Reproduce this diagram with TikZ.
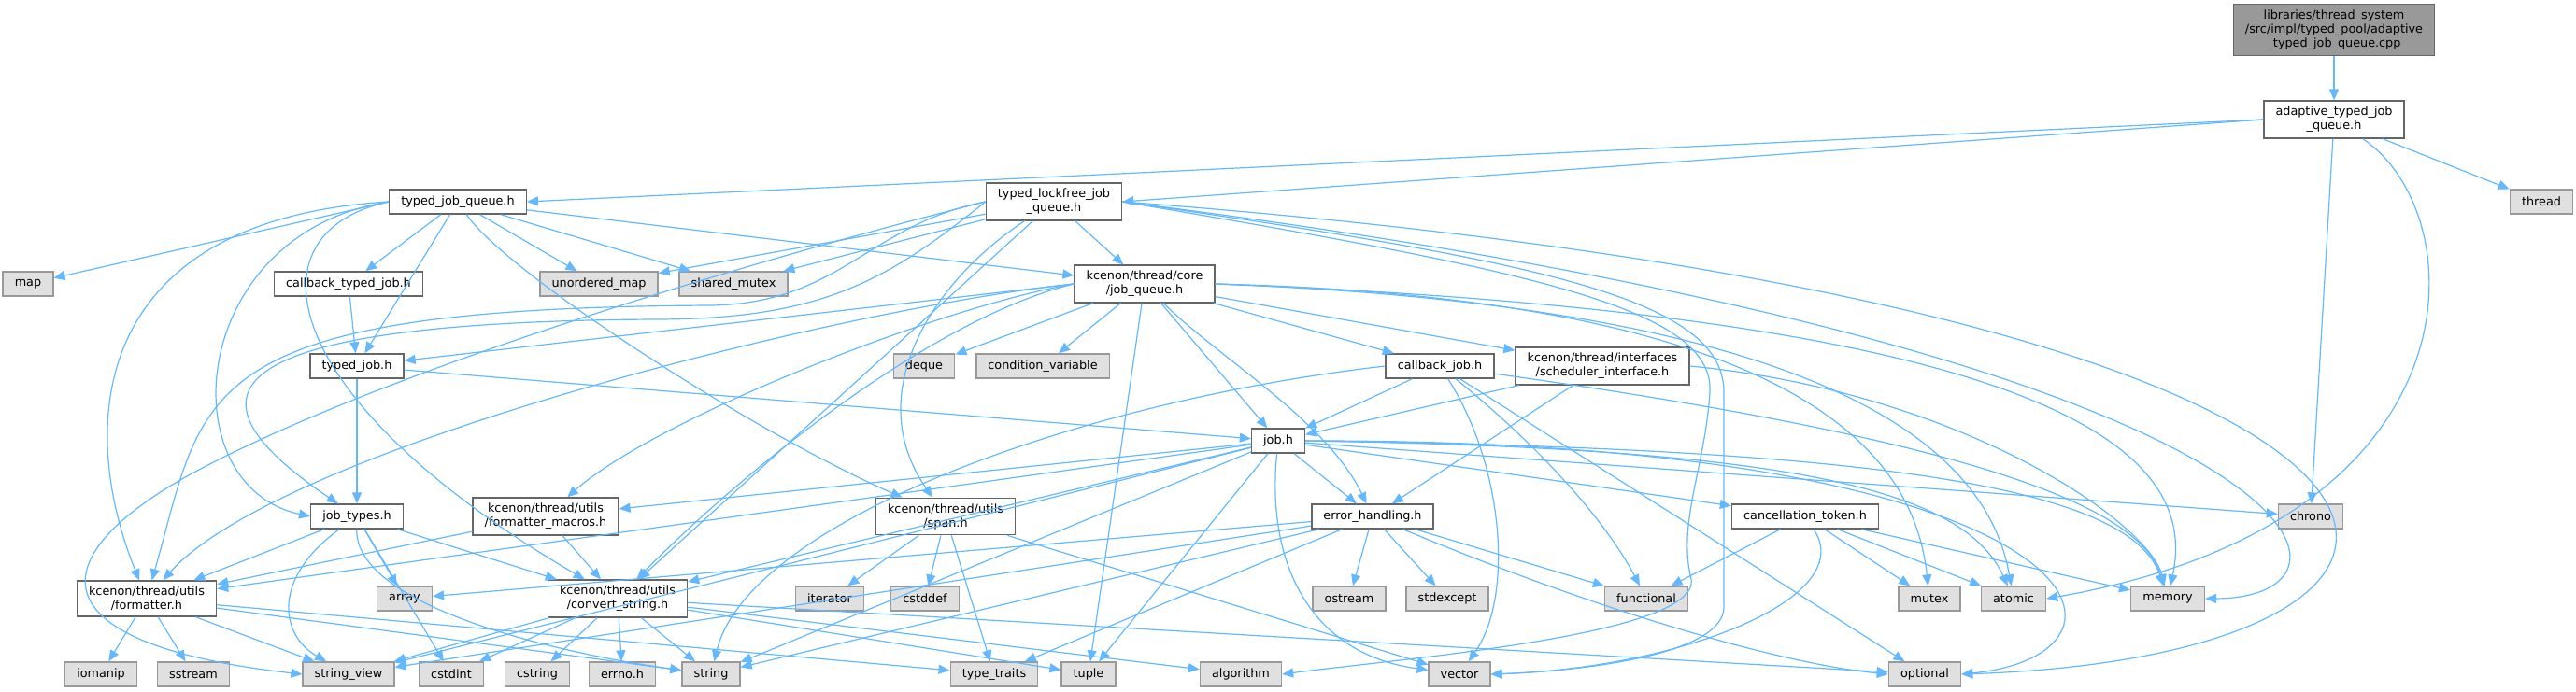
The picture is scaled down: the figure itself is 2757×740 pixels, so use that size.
\documentclass[tikz,border=0pt]{standalone}
\usepackage{fontspec}
\setmainfont{DejaVu Sans}
\usepackage{xcolor}
\usepackage{tikz}
\usetikzlibrary{arrows.meta}

\definecolor{edgeblue}{HTML}{63B8FF}
\definecolor{extfill}{HTML}{E0E0E0}
\definecolor{extdraw}{HTML}{999999}
\definecolor{filedraw}{HTML}{666666}
\definecolor{rootfill}{HTML}{999999}

\begin{document}
\begin{tikzpicture}[
        x=0.5pt, y=-0.5pt,
        filenode/.style={draw=filedraw, fill=white, line width=0.7pt, inner xsep=6.3pt, inner ysep=3pt, minimum height=13pt, align=center, font=\fontsize{6.4pt}{7.5pt}\selectfont},
        extnode/.style={filenode, draw=extdraw, fill=extfill},
        rootnode/.style={filenode, fill=rootfill},
        dep/.style={-{Triangle[length=6pt, width=5pt]}, line width=0.6pt, edgeblue}
    ]
        \useasboundingbox (0,0) rectangle (2757,740);

        % top ranks
        \node[rootnode] (root) at (2498,32) {libraries/thread\_system\\/src/impl/typed\_pool/adaptive\\\_typed\_job\_queue.cpp};
        \node[filenode] (adq) at (2498,128) {adaptive\_typed\_job\\\_queue.h};
        \node[extnode] (thread) at (2720,216) {thread};
        \node[filenode] (tjq) at (490,216) {typed\_job\_queue.h};
        \node[filenode] (tlf) at (1128,216) {typed\_lockfree\_job\\\_queue.h};

        \node[extnode] (map) at (30,304) {map};
        \node[filenode] (cbtj) at (373,304) {callback\_typed\_job.h};
        \node[extnode] (umap) at (641,304) {unordered\_map};
        \node[extnode] (smutex) at (785,304) {shared\_mutex};
        \node[filenode] (jq) at (1225,304) {kcenon/thread/core\\/job\_queue.h};

        \node[filenode] (typedjob) at (382,392) {typed\_job.h};
        \node[extnode] (deque) at (989,392) {deque};
        \node[extnode] (condvar) at (1116,392) {condition\_variable};
        \node[filenode] (cbjob) at (1541,392) {callback\_job.h};
        \node[filenode] (sched) at (1715,392) {kcenon/thread/interfaces\\/scheduler\_interface.h};

        \node[filenode] (job) at (1368,472) {job.h};

        \node[filenode] (jobtypes) at (382,553) {job\_types.h};
        \node[filenode] (fmacros) at (584,553) {kcenon/thread/utils\\/formatter\_macros.h};
        \node[filenode] (span) at (1012,553) {kcenon/thread/utils\\/span.h};
        \node[filenode] (errh) at (1469,553) {error\_handling.h};
        \node[filenode] (cancel) at (1932,553) {cancellation\_token.h};
        \node[extnode] (chrono) at (2473,553) {chrono};

        \node[filenode] (formatter) at (157,641) {kcenon/thread/utils\\/formatter.h};
        \node[extnode] (array) at (433,641) {array};
        \node[filenode] (convstr) at (661,641) {kcenon/thread/utils\\/convert\_string.h};
        \node[extnode] (iterator) at (888,641) {iterator};
        \node[extnode] (cstddef) at (990,641) {cstddef};
        \node[extnode] (ostream) at (1444,641) {ostream};
        \node[extnode] (stdexcept) at (1549,641) {stdexcept};
        \node[extnode] (functional) at (1762,641) {functional};
        \node[extnode] (mutex) at (2065,641) {mutex};
        \node[extnode] (atomic) at (2155,641) {atomic};
        \node[extnode] (memory) at (2320,641) {memory};

        % bottom rank
        \node[extnode] (iomanip) at (108,722) {iomanip};
        \node[extnode] (sstream) at (207,722) {sstream};
        \node[extnode] (strview) at (373,722) {string\_view};
        \node[extnode] (cstdint) at (483,722) {cstdint};
        \node[extnode] (cstring) at (575,722) {cstring};
        \node[extnode] (errno) at (666,722) {errno.h};
        \node[extnode] (string) at (761,722) {string};
        \node[extnode] (typetraits) at (1064,722) {type\_traits};
        \node[extnode] (tuple) at (1165,722) {tuple};
        \node[extnode] (algorithm) at (1328,722) {algorithm};
        \node[extnode] (vector) at (1562,722) {vector};
        \node[extnode] (optional) at (2060,722) {optional};

        % adaptive_typed_job_queue
        \draw[dep] (root) -- (adq);
        \draw[dep] (adq.west) -- (tjq.east);
        \draw[dep] (adq.west) -- (tlf.east);
        \draw[dep] (adq) -- (thread);
        \draw[dep] (adq) -- (chrono);
        \draw[dep] (adq) .. controls (2650,230) and (2660,560) .. (atomic.east);

        % typed_job_queue
        \draw[dep] (tjq.west) -- (map);
        \draw[dep] (tjq) -- (cbtj);
        \draw[dep] (tjq) -- (umap);
        \draw[dep] (tjq) -- (smutex);
        \draw[dep] (tjq) -- (jq);
        \draw[dep] (tjq) -- (typedjob);
        \draw[dep] (tjq.west) .. controls (200,250) and (180,520) .. (jobtypes.west);
        \draw[dep] (tjq.west) .. controls (100,235) and (80,450) .. (formatter);
        \draw[dep] (tjq.west) .. controls (260,250) and (300,430) .. (convstr);
        \draw[dep] (tjq) .. controls (540,290) and (800,460) .. (span);

        % typed_lockfree_job_queue
        \draw[dep] (tlf) -- (umap);
        \draw[dep] (tlf) -- (smutex);
        \draw[dep] (tlf) -- (jq);
        \draw[dep] (tlf.west) .. controls (950,300) and (880,342) .. (700,342) .. controls (200,345) and (200,430) .. (jobtypes);
        \draw[dep] (tlf.west) .. controls (930,240) and (900,325) .. (760,327) .. controls (200,330) and (220,420) .. (formatter);
        \draw[dep] (tlf) -- (convstr);
        \draw[dep] (tlf) .. controls (1000,300) and (920,420) .. (span);
        \draw[dep] (tlf.west) .. controls (800,280) and (400,400) .. (200,510) .. controls (40,600) and (40,690) .. (strview.west);
        \draw[dep] (tlf.east) .. controls (2500,380) and (2560,640) .. (memory.east);
        \draw[dep] (tlf.east) .. controls (2720,330) and (2740,700) .. (optional.east);
        \draw[dep] (tlf.east) .. controls (1640,290) and (1835,330) .. (1830,420) .. controls (1825,500) and (1795,560) .. (1810,620) .. controls (1820,680) and (1500,705) .. (algorithm.east);
        \draw[dep] (tlf.east) .. controls (1650,280) and (1845,320) .. (1845,420) -- (1845,650) .. controls (1845,700) and (1700,718) .. (vector.east);

        \draw[dep] (cbtj) -- (typedjob);

        % job_queue
        \draw[dep] (jq) -- (deque);
        \draw[dep] (jq) -- (condvar);
        \draw[dep] (jq) -- (cbjob);
        \draw[dep] (jq) -- (sched);
        \draw[dep] (jq) -- (job);
        \draw[dep] (jq) .. controls (1300,380) and (1420,450) .. (errh);
        \draw[dep] (jq.west) -- (typedjob);
        \draw[dep] (jq.west) .. controls (1000,330) and (700,450) .. (fmacros);
        \draw[dep] (jq.west) .. controls (900,330) and (300,480) .. (formatter);
        \draw[dep] (jq.west) .. controls (1000,340) and (800,500) .. (convstr);
        \draw[dep] (jq) -- (tuple);
        \draw[dep] (jq.east) .. controls (1950,320) and (2050,500) .. (mutex);
        \draw[dep] (jq.east) .. controls (2000,330) and (2130,500) .. (atomic);
        \draw[dep] (jq.east) .. controls (2250,340) and (2350,500) .. (memory);

        % typed_job
        \draw[dep] (typedjob) -- (jobtypes);
        \draw[dep] (typedjob) -- (job);

        % callback_job
        \draw[dep] (cbjob) -- (job);
        \draw[dep] (cbjob.west) .. controls (1150,430) and (800,560) .. (string);
        \draw[dep] (cbjob) .. controls (1610,500) and (1620,640) .. (vector);
        \draw[dep] (cbjob) .. controls (1650,480) and (1720,560) .. (functional);
        \draw[dep] (cbjob) -- (optional);
        \draw[dep] (cbjob) .. controls (2100,470) and (2290,540) .. (memory);

        % scheduler_interface
        \draw[dep] (sched) -- (job);
        \draw[dep] (sched) -- (errh);
        \draw[dep] (sched.east) .. controls (2100,420) and (2300,560) .. (memory);

        % job
        \draw[dep] (job) -- (fmacros);
        \draw[dep] (job) -- (formatter);
        \draw[dep] (job) -- (convstr);
        \draw[dep] (job) -- (errh);
        \draw[dep] (job) -- (cancel);
        \draw[dep] (job) -- (chrono);
        \draw[dep] (job) -- (tuple);
        \draw[dep] (job) .. controls (1355,600) and (1400,700) .. (vector);
        \draw[dep] (job) -- (string);
        \draw[dep] (job) -- (strview);
        \draw[dep] (job.east) .. controls (2000,480) and (2280,520) .. (memory);
        \draw[dep] (job.east) .. controls (1900,480) and (2100,520) .. (atomic);
        \draw[dep] (job.east) .. controls (2250,470) and (2320,700) .. (optional.east);

        % job_types
        \draw[dep] (jobtypes) -- (formatter);
        \draw[dep] (jobtypes) -- (array);
        \draw[dep] (jobtypes) -- (convstr);
        \draw[dep] (jobtypes) .. controls (290,620) and (300,680) .. (strview);
        \draw[dep] (jobtypes) .. controls (380,650) and (600,700) .. (string);
        \draw[dep] (jobtypes) -- (cstdint);

        \draw[dep] (fmacros) -- (formatter);
        \draw[dep] (fmacros) -- (convstr);

        % span
        \draw[dep] (span) -- (iterator);
        \draw[dep] (span) -- (cstddef);
        \draw[dep] (span) -- (typetraits);
        \draw[dep] (span) -- (vector);

        % error_handling
        \draw[dep] (errh) -- (ostream);
        \draw[dep] (errh) -- (stdexcept);
        \draw[dep] (errh) -- (functional);
        \draw[dep] (errh) .. controls (1700,650) and (1900,710) .. (optional.west);
        \draw[dep] (errh) -- (typetraits);
        \draw[dep] (errh) -- (string);
        \draw[dep] (errh) -- (strview);
        \draw[dep] (errh) -- (array);

        % cancellation_token
        \draw[dep] (cancel) -- (functional);
        \draw[dep] (cancel) -- (mutex);
        \draw[dep] (cancel) -- (atomic);
        \draw[dep] (cancel) -- (memory);
        \draw[dep] (cancel) .. controls (1990,640) and (1800,715) .. (vector.east);

        % formatter
        \draw[dep] (formatter) -- (iomanip);
        \draw[dep] (formatter) -- (sstream);
        \draw[dep] (formatter) -- (strview);
        \draw[dep] (formatter) -- (string);
        \draw[dep] (formatter) -- (typetraits);

        % convert_string
        \draw[dep] (convstr) -- (cstdint);
        \draw[dep] (convstr) -- (strview);
        \draw[dep] (convstr) -- (cstring);
        \draw[dep] (convstr) -- (errno);
        \draw[dep] (convstr) -- (string);
        \draw[dep] (convstr) -- (tuple);
        \draw[dep] (convstr) -- (algorithm);
        \draw[dep] (convstr) -- (optional);
    \end{tikzpicture}
\end{document}
